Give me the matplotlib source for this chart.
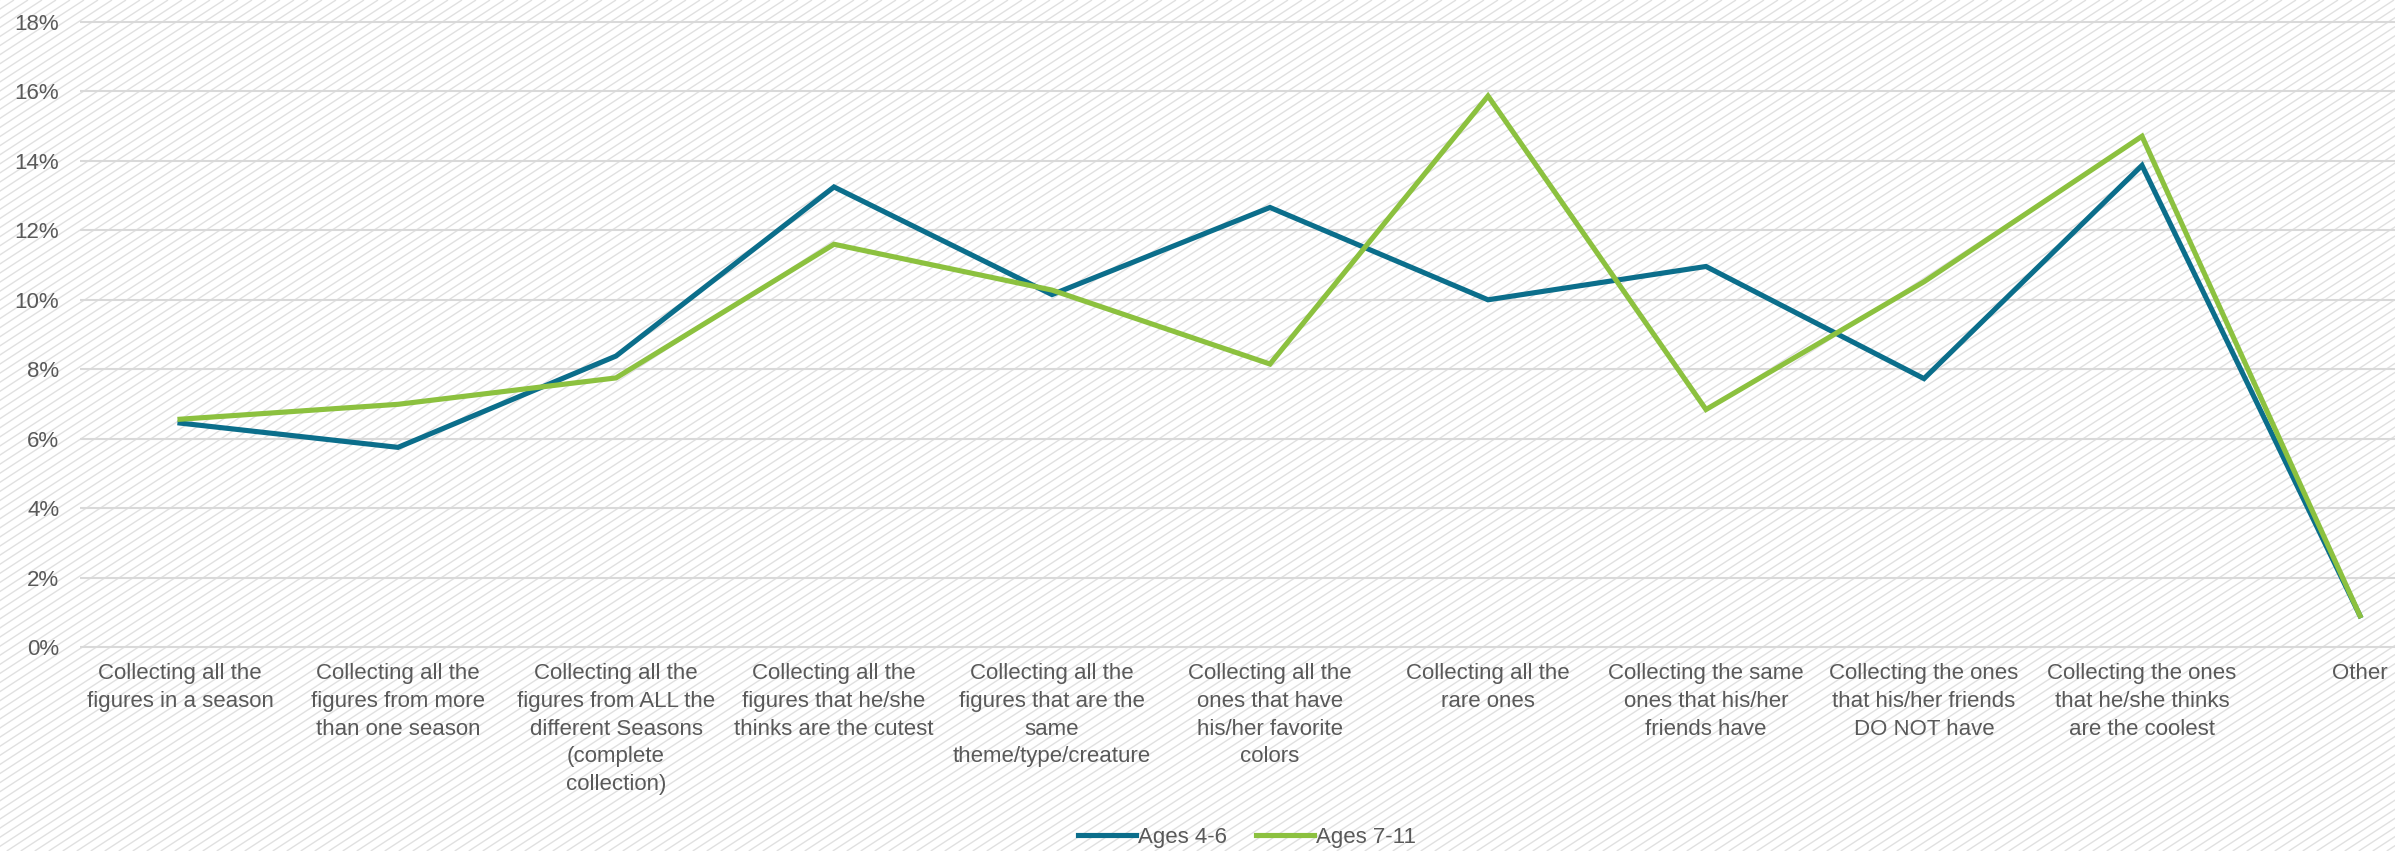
import matplotlib
matplotlib.use('Agg')
from matplotlib import pyplot as plt
from matplotlib.collections import LineCollection
from matplotlib.ticker import PercentFormatter
import numpy as np

plt.rcParams['font.family'] = ['Liberation Sans', 'DejaVu Sans']

categories = [
    'Collecting all the\nfigures in a season',
    'Collecting all the\nfigures from more\nthan one season',
    'Collecting all the\nfigures from ALL the\ndifferent Seasons\n(complete\ncollection)',
    'Collecting all the\nfigures that he/she\nthinks are the cutest',
    'Collecting all the\nfigures that are the\nsame\ntheme/type/creature',
    'Collecting all the\nones that have\nhis/her favorite\ncolors',
    'Collecting all the\nrare ones',
    'Collecting the same\nones that his/her\nfriends have',
    'Collecting the ones\nthat his/her friends\nDO NOT have',
    'Collecting the ones\nthat he/she thinks\nare the coolest',
    'Other',
]

ages_4_6 = [6.45, 5.75, 8.38, 13.25, 10.15, 12.66, 10.0, 10.96, 7.73, 13.87, 0.9]
ages_7_11 = [6.56, 6.99, 7.75, 11.6, 10.28, 8.15, 15.87, 6.84, 10.52, 14.71, 0.9]

blue = '#0b6e8b'
green = '#8cc13f'
text_grey = '#595959'

W, H = 2395, 851
fig = plt.figure(figsize=(W / 100, H / 100), dpi=100)
fig.patch.set_facecolor('white')

# light diagonal stripes behind everything (figure pixel coords)
slope = 0.65
starts = np.arange(-H / slope, W + 14, 14.0)
segs = [[(s, 0), (s + H / slope, H)] for s in starts]
stripes = LineCollection(segs, colors='#e0e0e0', linewidths=1.0,
                         transform=None, zorder=-10)
fig.add_artist(stripes)

ax = fig.add_axes([80 / W, (H - 652) / H, 1 - 80 / W, 652 / H])
ax.patch.set_alpha(0)

x = list(range(len(categories)))
ax.plot(x, ages_4_6, color=blue, lw=3.7, label='Ages 4-6', solid_joinstyle='miter', zorder=3)
ax.plot(x, ages_7_11, color=green, lw=3.7, label='Ages 7-11', solid_joinstyle='miter', zorder=3)

# 34.72 px per percent, 0% sits 5 px above the axes bottom
ax.set_ylim(-5 / 34.72, 647 / 34.72)
ax.set_xlim((80 - 180) / 218, (W - 180) / 218)
ax.set_yticks(range(0, 19, 2))
ax.yaxis.set_major_formatter(PercentFormatter(decimals=0))
ax.grid(axis='y', color='#d9d9d9', lw=1.5, zorder=0)
ax.set_xticks(x)
ax.set_xticklabels(categories, fontsize=16, color=text_grey, linespacing=1.42)
ax.tick_params(axis='x', length=0, pad=8)
ax.tick_params(axis='y', length=0, pad=15, labelsize=16, labelcolor=text_grey)
for s in ax.spines.values():
    s.set_visible(False)

leg = fig.legend(loc='center', bbox_to_anchor=(1247 / W, 1 - 837 / H), ncol=2, frameon=False,
                 fontsize=16, handlelength=2.6, handletextpad=0.1, columnspacing=1.3)
for t in leg.get_texts():
    t.set_color(text_grey)

plt.savefig('out.png', dpi=100)
